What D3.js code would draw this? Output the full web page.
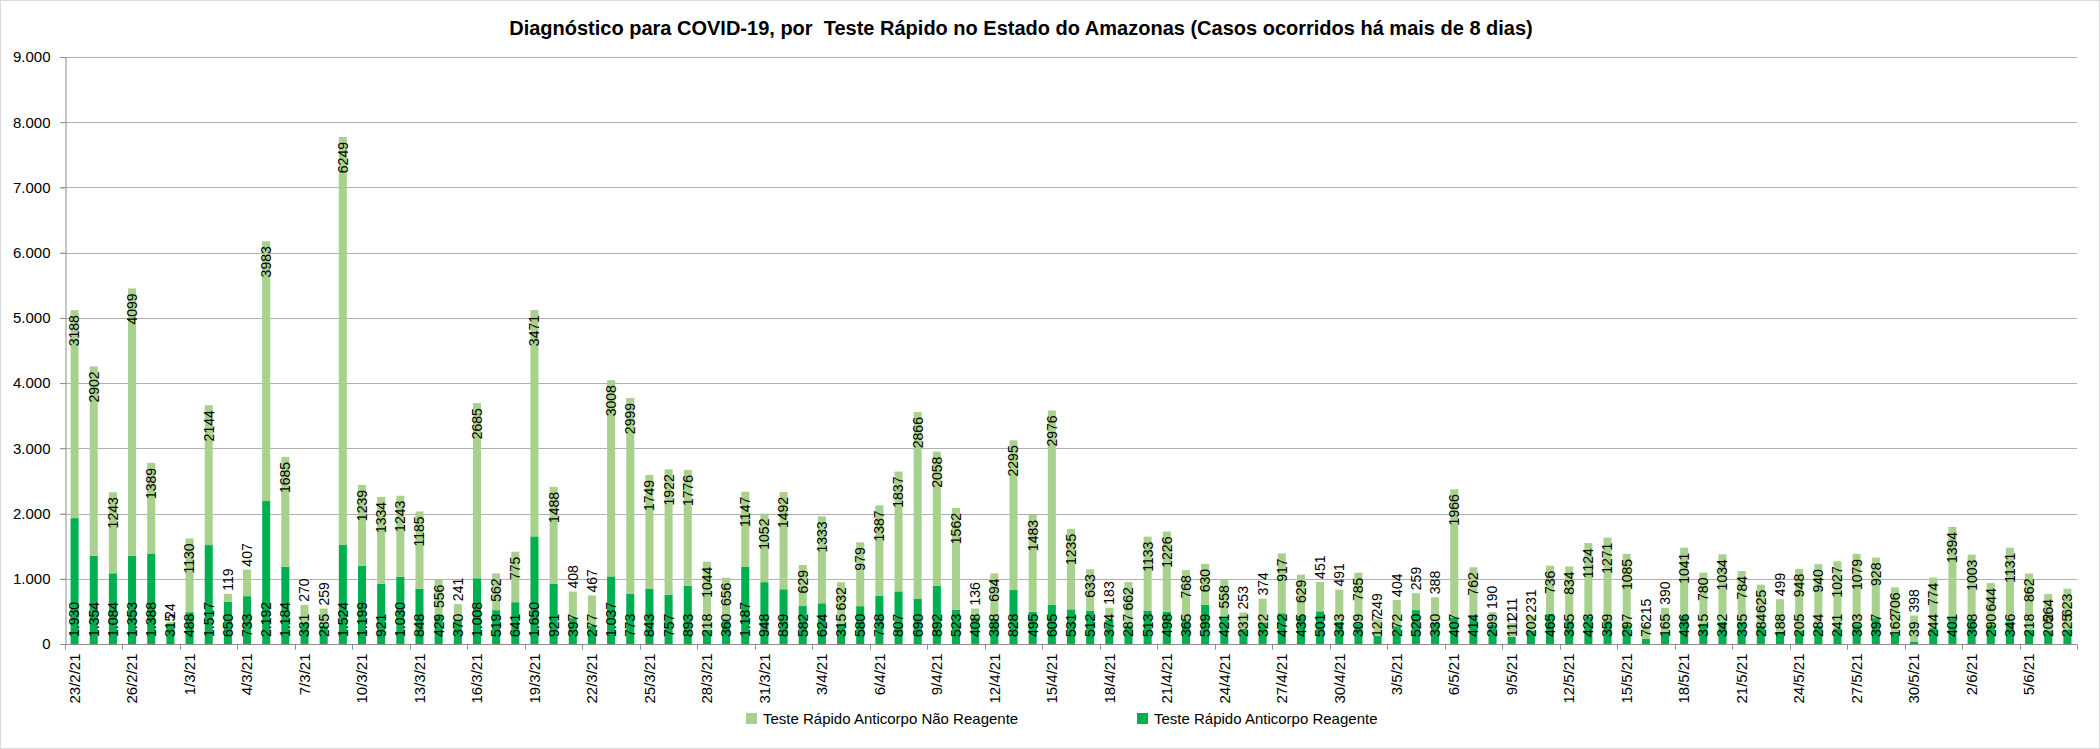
<!DOCTYPE html>
<html>
<head>
<meta charset="utf-8">
<script src="https://cdn.jsdelivr.net/npm/d3@7"></script>
<style>
  body { margin: 0; background: #ffffff; }
  text { font-family: "Liberation Sans", Arial, sans-serif; fill: #000; }
</style>
</head>
<body>
<script>
const categories = [
  "23/2/21","24/2/21","25/2/21","26/2/21","27/2/21","28/2/21",
  "1/3/21","2/3/21","3/3/21","4/3/21","5/3/21","6/3/21","7/3/21","8/3/21","9/3/21","10/3/21",
  "11/3/21","12/3/21","13/3/21","14/3/21","15/3/21","16/3/21","17/3/21","18/3/21","19/3/21","20/3/21",
  "21/3/21","22/3/21","23/3/21","24/3/21","25/3/21","26/3/21","27/3/21","28/3/21","29/3/21","30/3/21","31/3/21",
  "1/4/21","2/4/21","3/4/21","4/4/21","5/4/21","6/4/21","7/4/21","8/4/21","9/4/21","10/4/21",
  "11/4/21","12/4/21","13/4/21","14/4/21","15/4/21","16/4/21","17/4/21","18/4/21","19/4/21","20/4/21",
  "21/4/21","22/4/21","23/4/21","24/4/21","25/4/21","26/4/21","27/4/21","28/4/21","29/4/21","30/4/21",
  "1/5/21","2/5/21","3/5/21","4/5/21","5/5/21","6/5/21","7/5/21","8/5/21","9/5/21","10/5/21",
  "11/5/21","12/5/21","13/5/21","14/5/21","15/5/21","16/5/21","17/5/21","18/5/21","19/5/21","20/5/21",
  "21/5/21","22/5/21","23/5/21","24/5/21","25/5/21","26/5/21","27/5/21","28/5/21","29/5/21","30/5/21","31/5/21",
  "1/6/21","2/6/21","3/6/21","4/6/21","5/6/21","6/6/21","7/6/21"
];

const reagente = [
  1930,1354,1084,1353,1388,315,488,1517,650,733,
  2192,1184,331,285,1524,1199,921,1030,848,429,
  370,1008,519,641,1650,921,397,277,1037,773,
  843,757,893,218,360,1187,948,839,582,624,
  315,580,738,807,690,892,523,408,388,828,
  495,605,531,512,374,287,513,498,365,599,
  421,231,322,472,435,501,343,309,127,272,
  520,330,407,414,299,111,202,465,355,423,
  359,297,76,165,436,315,342,335,284,188,
  205,284,241,303,397,162,39,244,401,368,
  290,346,218,202,225
];

const naoReagente = [
  3188,2902,1243,4099,1389,24,1130,2144,119,407,
  3983,1685,270,259,6249,1239,1334,1243,1185,556,
  241,2685,562,775,3471,1488,408,467,3008,2999,
  1749,1922,1776,1044,656,1147,1052,1492,629,1333,
  632,979,1387,1837,2866,2058,1562,136,694,2295,
  1483,2976,1235,633,183,662,1133,1226,768,630,
  558,253,374,917,629,451,491,785,249,404,
  259,388,1966,762,190,211,231,736,834,1124,
  1271,1085,215,390,1041,780,1034,784,625,499,
  948,940,1027,1079,928,706,398,774,1394,1003,
  644,1131,862,564,623
];

const yTicks = [0,1000,2000,3000,4000,5000,6000,7000,8000,9000];
const title = "Diagnóstico para COVID-19, por  Teste Rápido no Estado do Amazonas (Casos ocorridos há mais de 8 dias)";
const seriesNames = ["Teste Rápido Anticorpo Não Reagente", "Teste Rápido Anticorpo Reagente"];
const colors = { nao: "#a9d18e", reag: "#00b050" };

const W = 2100, H = 749;
const plot = { left: 65, right: 2077, top: 57, bottom: 644 };

const locale = d3.formatLocale({ decimal: ",", thousands: ".", grouping: [3], currency: ["", ""] });
const fmt = locale.format(",.0f");

const svg = d3.select("body").append("svg").attr("width", W).attr("height", H);

svg.append("rect").attr("x", 0.5).attr("y", 0.5).attr("width", W - 1).attr("height", H - 1)
  .attr("fill", "#fff").attr("stroke", "#d9d9d9");

const x = d3.scaleBand().domain(d3.range(categories.length))
  .range([plot.left, plot.right]).paddingInner(0.58).paddingOuter(0.29);
const y = d3.scaleLinear().domain([0, 9000]).range([plot.bottom, plot.top]);

// gridlines
svg.append("g").selectAll("line").data(yTicks.filter(d => d > 0)).join("line")
  .attr("x1", plot.left - 5).attr("x2", plot.right)
  .attr("y1", d => Math.round(y(d)) + 0.5).attr("y2", d => Math.round(y(d)) + 0.5)
  .attr("stroke", "#b0b0b0").attr("stroke-width", 1);

// y axis
const yAxis = svg.append("g").attr("transform", `translate(${plot.left + 0.5},0)`)
  .call(d3.axisLeft(y).tickValues(yTicks).tickFormat(fmt).tickSize(5).tickPadding(10));
yAxis.select(".domain").attr("stroke", "#8c8c8c");
yAxis.selectAll(".tick line").attr("stroke", "#8c8c8c");
yAxis.selectAll("text").attr("font-size", 15).attr("font-family", "Liberation Sans, Arial, sans-serif");

// bars
const data = categories.map((c, i) => ({ i, c, r: reagente[i], n: naoReagente[i] }));
const step = x.step();
const bars = svg.append("g");
bars.selectAll("rect.reag").data(data).join("rect").attr("class", "reag")
  .attr("x", d => x(d.i)).attr("width", x.bandwidth())
  .attr("y", d => y(d.r)).attr("height", d => y(0) - y(d.r))
  .attr("fill", colors.reag);
bars.selectAll("rect.nao").data(data).join("rect").attr("class", "nao")
  .attr("x", d => x(d.i)).attr("width", x.bandwidth())
  .attr("y", d => y(d.r + d.n)).attr("height", d => y(d.r) - y(d.r + d.n))
  .attr("fill", colors.nao);

// x axis
const xAxisG = svg.append("g").attr("transform", `translate(0,${plot.bottom + 0.5})`);
xAxisG.append("line").attr("x1", plot.left).attr("x2", plot.right).attr("stroke", "#8c8c8c");
const tickIdx = d3.range(0, categories.length, 3);
xAxisG.selectAll("line.tk").data(tickIdx.concat([categories.length])).join("line").attr("class", "tk")
  .attr("x1", d => Math.round(plot.left + d * step) + 0.5).attr("x2", d => Math.round(plot.left + d * step) + 0.5)
  .attr("y1", 0).attr("y2", 5).attr("stroke", "#8c8c8c");
xAxisG.selectAll("text").data(tickIdx).join("text")
  .attr("transform", d => `translate(${x(d) + x.bandwidth() / 2},9) rotate(-90)`)
  .attr("text-anchor", "end").attr("dy", "0.35em")
  .attr("font-size", 15).text(d => categories[d]);

// data labels
const lab = svg.append("g").attr("font-size", 14);
data.forEach(d => {
  const cx = x(d.i) + x.bandwidth() / 2;
  lab.append("text")
    .attr("transform", `translate(${cx},${y(0) - 7}) rotate(-90)`)
    .attr("text-anchor", "start").attr("dy", "0.35em")
    .text(fmt(d.r));
  const top = y(d.r + d.n);
  const segH = y(d.r) - top;
  const t = lab.append("text").attr("dy", "0.35em").text(String(d.n));
  const len = t.node().getComputedTextLength();
  if (segH >= len + 12) {
    t.attr("transform", `translate(${cx},${top + 5}) rotate(-90)`).attr("text-anchor", "end");
  } else {
    t.attr("transform", `translate(${cx},${top - 3}) rotate(-90)`).attr("text-anchor", "start");
  }
});

// title
svg.append("text").attr("x", 1021).attr("y", 28).attr("text-anchor", "middle").attr("dy", "0.35em")
  .attr("font-size", 20).attr("font-weight", "bold").style("white-space", "pre").text(title);

// legend
const legend = svg.append("g").attr("transform", "translate(0,719)");
const legItems = [
  { name: seriesNames[0], color: colors.nao, x: 746 },
  { name: seriesNames[1], color: colors.reag, x: 1137 }
];
legItems.forEach(it => {
  legend.append("rect").attr("x", it.x).attr("y", -6).attr("width", 11).attr("height", 11).attr("fill", it.color);
  legend.append("text").attr("x", it.x + 17).attr("y", 0).attr("dy", "0.35em").attr("font-size", 15).text(it.name);
});
</script>
</body>
</html>
